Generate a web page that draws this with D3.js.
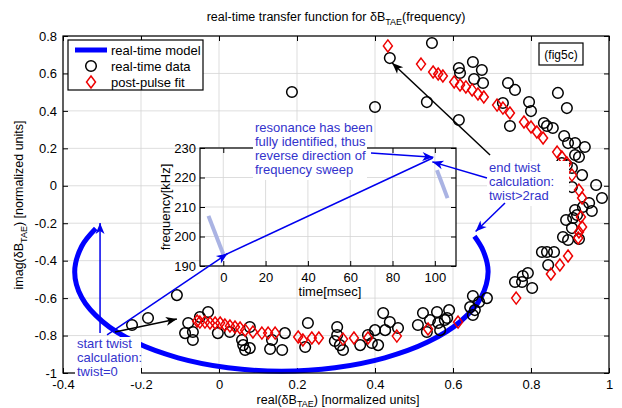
<!DOCTYPE html>
<html>
<head>
<meta charset="utf-8">
<script src="https://cdn.jsdelivr.net/npm/d3@7"></script>
<style>
  body { margin: 0; background: #fff; }
  text { font-family: "Liberation Sans", Arial, sans-serif; }
</style>
</head>
<body>
<svg id="chart"></svg>
<script>
const width = 622;
const height = 408;

// tick values
const xTicks = [-0.4, -0.2, 0, 0.2, 0.4, 0.6, 0.8, 1];
const yTicks = [-1, -0.8, -0.6, -0.4, -0.2, 0, 0.2, 0.4, 0.6, 0.8];
const insetXTicks = [0, 20, 40, 60, 80, 100];
const insetYTicks = [190, 200, 210, 220, 230];

// real-time model (read along the blue arc)
const modelCurve = [
  [-0.316, -0.228], [-0.352, -0.323], [-0.370, -0.460], [-0.352, -0.597],
  [-0.299, -0.725], [-0.215, -0.835], [-0.105, -0.919], [0.023, -0.972],
  [0.160, -0.990], [0.297, -0.972], [0.425, -0.919], [0.535, -0.835],
  [0.619, -0.725], [0.672, -0.597], [0.690, -0.460], [0.678, -0.350],
  [0.655, -0.270]
];

// real-time data (circles)
const realTimeData = [
  [0.187, 0.501], [0.400, 0.421], [0.438, 0.682], [0.546, 0.763], [0.533, 0.447],
  [0.615, 0.351], [0.615, 0.629], [0.618, 0.602], [0.651, 0.661], [0.654, 0.570],
  [0.674, 0.618], [0.677, 0.549], [0.741, 0.549], [0.759, 0.512], [0.728, 0.442],
  [0.795, 0.447], [0.800, 0.399], [0.746, 0.319], [0.833, 0.335], [0.841, 0.319],
  [0.856, 0.309], [0.869, 0.496], [0.892, 0.415], [0.885, 0.266], [0.895, 0.228],
  [0.913, 0.228], [0.938, 0.207], [0.913, 0.164], [0.923, 0.154], [0.879, 0.122],
  [0.892, 0.111], [0.905, 0.095], [0.931, 0.057], [0.905, -0.007], [0.967, 0.004],
  [0.982, -0.065], [0.949, -0.092], [0.956, -0.135], [0.933, -0.113], [0.913, -0.129],
  [0.918, -0.156], [0.908, -0.172], [0.890, -0.183], [0.905, -0.226], [0.882, -0.274],
  [0.895, -0.290], [0.923, -0.284], [0.828, -0.354], [0.841, -0.354], [0.859, -0.354],
  [0.844, -0.423], [0.759, -0.514], [0.777, -0.514], [0.792, -0.466], [0.779, -0.482],
  [0.803, -0.546], [0.651, -0.589], [0.687, -0.600], [0.667, -0.621], [0.644, -0.648],
  [0.651, -0.690], [0.656, -0.664], [0.590, -0.664], [0.579, -0.717], [0.510, -0.744],
  [0.523, -0.680], [0.541, -0.717], [0.559, -0.674], [0.562, -0.733], [0.585, -0.706],
  [0.533, -0.781], [0.567, -0.771], [0.421, -0.680], [0.438, -0.728], [0.459, -0.760],
  [0.426, -0.771], [0.400, -0.771], [0.382, -0.797], [0.392, -0.840], [0.408, -0.851],
  [0.362, -0.851], [0.303, -0.754], [0.303, -0.797], [0.297, -0.829], [0.310, -0.851],
  [0.318, -0.877], [0.228, -0.733], [0.221, -0.861], [0.169, -0.787], [0.162, -0.877],
  [0.136, -0.824], [0.131, -0.872], [0.079, -0.754], [0.059, -0.824], [0.062, -0.851],
  [0.067, -0.877], [0.079, -0.867], [0.028, -0.781], [-0.003, -0.787], [-0.028, -0.674],
  [-0.049, -0.701], [-0.223, -0.744], [-0.182, -0.706], [-0.108, -0.584], [-0.079, -0.733],
  [-0.087, -0.787], [-0.067, -0.781], [-0.067, -0.824]
];

// post-pulse fit (diamonds)
const postPulseFit = [
  [0.433, 0.747], [0.518, 0.650], [0.549, 0.608], [0.562, 0.597], [0.574, 0.586],
  [0.603, 0.554], [0.618, 0.538], [0.633, 0.528], [0.649, 0.512], [0.664, 0.490],
  [0.679, 0.474], [0.713, 0.431], [0.728, 0.415], [0.746, 0.389], [0.782, 0.341],
  [0.800, 0.314], [0.815, 0.287], [0.831, 0.255], [0.867, 0.180], [0.879, 0.154],
  [0.892, 0.122], [0.905, 0.057], [0.923, -0.023], [0.931, -0.065], [0.928, -0.167],
  [0.931, -0.220], [0.923, -0.247], [0.921, -0.279], [0.895, -0.375], [0.874, -0.423],
  [0.851, -0.471], [0.762, -0.600], [0.613, -0.728], [0.536, -0.765], [0.456, -0.803],
  [0.382, -0.813], [0.346, -0.813], [0.318, -0.819], [0.256, -0.813], [0.238, -0.813],
  [0.215, -0.824], [0.203, -0.808], [0.144, -0.787], [0.126, -0.787], [0.110, -0.787],
  [0.087, -0.781], [0.067, -0.771], [0.054, -0.760], [0.041, -0.754], [0.028, -0.749],
  [0.015, -0.744], [0.003, -0.733], [-0.010, -0.733], [-0.023, -0.733], [-0.036, -0.728],
  [-0.049, -0.728], [-0.056, -0.722]
];

// inset: frequency vs time
const freqSweepStart = [[-7, 207], [0, 194]];
const freqSweepEnd = [[101, 222.5], [106, 213]];
const sweepLine = [[0, 193.5], [99, 226.6]];

const svg = d3.select("#chart")
    .attr("width", width)
    .attr("height", height);

svg.append("rect").attr("width", width).attr("height", height).attr("fill", "#fff");

const defs = svg.append("defs");
function marker(id, color) {
  defs.append("marker")
      .attr("id", id)
      .attr("viewBox", "-12 -6 14 12")
      .attr("refX", 0).attr("refY", 0)
      .attr("markerWidth", 14).attr("markerHeight", 12)
      .attr("markerUnits", "userSpaceOnUse")
      .attr("orient", "auto")
    .append("path")
      .attr("d", "M0,0 L-11,-4.5 L-8,0 L-11,4.5 Z")
      .attr("fill", color);
}
marker("headBlack", "#000");
marker("headBlue", "#0000ee");

// main axes
const x = d3.scaleLinear().domain([-0.4, 1]).range([63, 609]);
const y = d3.scaleLinear().domain([-1, 0.8]).range([373, 36]);
const fmt = d => String(+d.toFixed(1));

// grid
const grid = svg.append("g").attr("stroke", "#d4d4d4").attr("stroke-width", 0.8);
grid.selectAll(".gx").data(xTicks).enter().append("line")
    .attr("x1", d => x(d)).attr("x2", d => x(d))
    .attr("y1", y(-1)).attr("y2", y(0.8));
grid.selectAll(".gy").data(yTicks).enter().append("line")
    .attr("x1", x(-0.4)).attr("x2", x(1))
    .attr("y1", d => y(d)).attr("y2", d => y(d));

function styleAxis(g) {
  g.select(".domain").remove();
  g.selectAll(".tick line").attr("stroke", "#000");
  g.selectAll(".tick text").attr("font-size", 13).attr("fill", "#000")
    .attr("font-family", "'Liberation Sans', Arial, sans-serif");
}

svg.append("g").attr("transform", `translate(0,${y(-1)})`)
    .call(d3.axisBottom(x).tickValues(xTicks).tickFormat(fmt).tickSize(-5).tickPadding(7))
    .call(styleAxis);
svg.append("g").attr("transform", `translate(0,${y(0.8)})`)
    .call(d3.axisTop(x).tickValues(xTicks).tickFormat("").tickSize(-5))
    .call(styleAxis);
svg.append("g").attr("transform", `translate(${x(-0.4)},0)`)
    .call(d3.axisLeft(y).tickValues(yTicks).tickFormat(fmt).tickSize(-5).tickPadding(6))
    .call(styleAxis);
svg.append("g").attr("transform", `translate(${x(1)},0)`)
    .call(d3.axisRight(y).tickValues(yTicks).tickFormat("").tickSize(-5))
    .call(styleAxis);

// model curve
const line = d3.line().x(d => x(d[0])).y(d => y(d[1])).curve(d3.curveCatmullRom);
svg.append("path").datum(modelCurve)
    .attr("d", line)
    .attr("fill", "none").attr("stroke", "#0000ff").attr("stroke-width", 5);

// data circles
svg.append("g").selectAll("circle").data(realTimeData).enter().append("circle")
    .attr("cx", d => x(d[0])).attr("cy", d => y(d[1])).attr("r", 5.3)
    .attr("fill", "none").attr("stroke", "#000").attr("stroke-width", 1.5);

// diamonds
const diamond = "M0,-6 L4.5,0 L0,6 L-4.5,0 Z";
svg.append("g").selectAll("path").data(postPulseFit).enter().append("path")
    .attr("d", diamond)
    .attr("transform", d => `translate(${x(d[0])},${y(d[1])})`)
    .attr("fill", "none").attr("stroke", "#ee0000").attr("stroke-width", 1.5);

// frame
svg.append("rect")
    .attr("x", x(-0.4)).attr("y", y(0.8))
    .attr("width", x(1) - x(-0.4)).attr("height", y(-1) - y(0.8))
    .attr("fill", "none").attr("stroke", "#000").attr("stroke-width", 1.2);

// title and labels
const title = svg.append("text").attr("x", 336).attr("y", 21)
    .attr("text-anchor", "middle").attr("font-size", 12.5);
title.append("tspan").text("real-time transfer function for δB");
title.append("tspan").attr("dy", 4).attr("font-size", 9).text("TAE");
title.append("tspan").attr("dy", -4).text("(frequency)");

const xl = svg.append("text").attr("x", 338).attr("y", 404)
    .attr("text-anchor", "middle").attr("font-size", 12.5);
xl.append("tspan").text("real(δB");
xl.append("tspan").attr("dy", 3).attr("font-size", 9).text("TAE");
xl.append("tspan").attr("dy", -3).text(") [normalized units]");

const yl = svg.append("text").attr("transform", "translate(23,205) rotate(-90)")
    .attr("text-anchor", "middle").attr("font-size", 12.5);
yl.append("tspan").text("imag(δB");
yl.append("tspan").attr("dy", 4).attr("font-size", 9).text("TAE");
yl.append("tspan").attr("dy", -4).text(") [normalized units]");

// inset
const ix = d3.scaleLinear().domain([-11, 110]).range([200, 456]);
const iy = d3.scaleLinear().domain([190, 230]).range([266, 148]);
const inset = svg.append("g");
inset.append("rect").attr("x", ix(-11)).attr("y", iy(230))
    .attr("width", ix(110) - ix(-11)).attr("height", iy(190) - iy(230))
    .attr("fill", "#fff");
const igrid = inset.append("g").attr("stroke", "#d4d4d4").attr("stroke-width", 0.8);
igrid.selectAll(".gx").data(insetXTicks).enter().append("line")
    .attr("x1", d => ix(d)).attr("x2", d => ix(d)).attr("y1", iy(190)).attr("y2", iy(230));
igrid.selectAll(".gy").data(insetYTicks).enter().append("line")
    .attr("x1", ix(-11)).attr("x2", ix(110)).attr("y1", d => iy(d)).attr("y2", d => iy(d));
inset.append("g").attr("transform", `translate(0,${iy(190)})`)
    .call(d3.axisBottom(ix).tickValues(insetXTicks).tickSize(-5).tickPadding(7))
    .call(styleAxis);
inset.append("g").attr("transform", `translate(0,${iy(230)})`)
    .call(d3.axisTop(ix).tickValues(insetXTicks).tickFormat("").tickSize(-5))
    .call(styleAxis);
inset.append("g").attr("transform", `translate(${ix(-11)},0)`)
    .call(d3.axisLeft(iy).tickValues(insetYTicks).tickSize(-5).tickPadding(4))
    .call(styleAxis);
inset.append("g").attr("transform", `translate(${ix(110)},0)`)
    .call(d3.axisRight(iy).tickValues(insetYTicks).tickFormat("").tickSize(-5))
    .call(styleAxis);

const iline = d3.line().x(d => ix(d[0])).y(d => iy(d[1]));
[freqSweepStart, freqSweepEnd].forEach(seg => {
  inset.append("path").datum(seg).attr("d", iline)
      .attr("fill", "none").attr("stroke", "#aab3e3").attr("stroke-width", 4);
});
inset.append("path").datum(sweepLine).attr("d", iline)
    .attr("fill", "none").attr("stroke", "#0000ee").attr("stroke-width", 1.5);

inset.append("rect").attr("x", ix(-11)).attr("y", iy(230))
    .attr("width", ix(110) - ix(-11)).attr("height", iy(190) - iy(230))
    .attr("fill", "none").attr("stroke", "#000").attr("stroke-width", 1.2);
inset.append("text").attr("transform", "translate(170,207) rotate(-90)")
    .attr("text-anchor", "middle").attr("font-size", 13).text("frequency[kHz]");
inset.append("text").attr("x", 330).attr("y", 296)
    .attr("text-anchor", "middle").attr("font-size", 13).text("time[msec]");

// annotations
const noteColor = "#3333cc";
function note(x0, y0, w, lines, lineH) {
  svg.append("rect").attr("x", x0 - 2).attr("y", y0 - 11).attr("width", w)
      .attr("height", lines.length * lineH + 3).attr("fill", "#fff");
  const t = svg.append("text").attr("font-size", 13).attr("fill", noteColor);
  lines.forEach((s, i) => {
    t.append("tspan").attr("x", x0).attr("y", y0 + i * lineH).text(s);
  });
}
function arrow(p0, p1, color, head, w) {
  svg.append("line")
      .attr("x1", p0[0]).attr("y1", p0[1]).attr("x2", p1[0]).attr("y2", p1[1])
      .attr("stroke", color).attr("stroke-width", w)
      .attr("marker-end", `url(#${head})`);
}

// start twist
arrow([x(-0.305), y(-0.787)], [x(-0.305), y(-0.199)], "#0000ee", "headBlue", 1.5);
arrow([x(-0.287), y(-0.797)], [ix(2), iy(194.2)], "#0000ee", "headBlue", 1.5);
arrow([x(-0.267), y(-0.781)], [x(-0.108), y(-0.712)], "#000", "headBlack", 1.5);
note(77, 348, 66, ["start twist", "calculation:", "twist=0"], 14);

// resonance identified
note(255, 132, 114, ["resonance has been", "fully identified, thus", "reverse direction of", "frequency sweep"], 14);
arrow([371, 153], [ix(99.3), iy(226.9)], "#0000ee", "headBlue", 1.5);

// end twist
arrow([x(0.695), y(0.164)], [x(0.444), y(0.656)], "#000", "headBlack", 1.5);
note(489, 172, 82, ["end twist", "calculation:", "twist>2rad"], 14);
arrow([487, 178], [ix(98.8), iy(225.3)], "#0000ee", "headBlue", 1.5);
arrow([505, 203], [x(0.658), y(-0.244)], "#0000ee", "headBlue", 1.5);

// legend
const lg = svg.append("g");
lg.append("rect").attr("x", 68).attr("y", 40).attr("width", 135).attr("height", 50)
    .attr("fill", "#fff").attr("stroke", "#000").attr("stroke-width", 1.2);
lg.append("line").attr("x1", 75).attr("x2", 107).attr("y1", 50).attr("y2", 50)
    .attr("stroke", "#0000ff").attr("stroke-width", 5);
lg.append("circle").attr("cx", 91).attr("cy", 66).attr("r", 5.3)
    .attr("fill", "none").attr("stroke", "#000").attr("stroke-width", 1.5);
lg.append("path").attr("d", diamond).attr("transform", "translate(91,82)")
    .attr("fill", "none").attr("stroke", "#ee0000").attr("stroke-width", 1.5);
["real-time model", "real-time data", "post-pulse fit"].forEach((s, i) => {
  lg.append("text").attr("x", 111).attr("y", 54.5 + i * 16).attr("font-size", 13).text(s);
});

// figure tag
svg.append("rect").attr("x", 539).attr("y", 43).attr("width", 44).attr("height", 22)
    .attr("fill", "#fff").attr("stroke", "#000").attr("stroke-width", 1.2);
svg.append("text").attr("x", 561).attr("y", 58.5).attr("text-anchor", "middle")
    .attr("font-size", 12).text("(fig5c)");
</script>
</body>
</html>
